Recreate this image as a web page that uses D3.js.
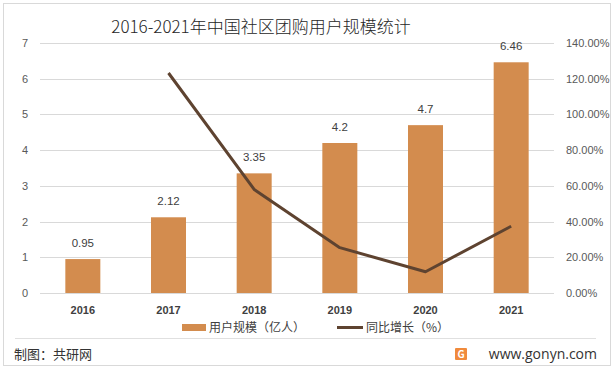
<!DOCTYPE html>
<html><head><meta charset="utf-8">
<script src="https://cdn.jsdelivr.net/npm/d3@7/dist/d3.min.js"></script>
<style>
body{margin:0;background:#fff;}
svg{display:block;font-family:"Microsoft YaHei","Noto Sans CJK SC",sans-serif;}
</style></head>
<body>
<svg id="c" width="614" height="369"></svg>
<script>
const categories = ["2016","2017","2018","2019","2020","2021"];
const users = [0.95, 2.12, 3.35, 4.2, 4.7, 6.46];
const growth = [null, 123.2, 58.0, 25.4, 11.9, 37.4];
const leftTicks = [0,1,2,3,4,5,6,7];
const rightTicks = [0,20,40,60,80,100,120,140];
const title = "2016-2021年中国社区团购用户规模统计";
const legendLabels = ["用户规模（亿人）","同比增长（%）"];

const svg = d3.select("#c");
const barColor = "#D38C4E", lineColor = "#5E4330";
const L = 40, R = 554, T = 43, B = 293;

svg.append("rect").attr("x",3.5).attr("y",3.5).attr("width",607).attr("height",362)
  .attr("fill","#fff").attr("stroke","#d9d9d9");

const y = d3.scaleLinear().domain([0,7]).range([B,T]);
const y2 = d3.scaleLinear().domain([0,140]).range([B,T]);
const xb = d3.scaleBand().domain(categories).range([L,R]);

// grid
svg.append("g").selectAll("line").data(leftTicks).join("line")
  .attr("x1",L).attr("x2",R).attr("y1",d=>Math.round(y(d))+0.5).attr("y2",d=>Math.round(y(d))+0.5)
  .attr("stroke","#d9d9d9").attr("stroke-width",1);

// left axis
const la = svg.append("g").attr("transform",`translate(${L},0)`)
  .call(d3.axisLeft(y).tickValues(leftTicks).tickSize(0).tickPadding(12).tickFormat(d3.format("d")));
la.select(".domain").remove();
la.selectAll("text").attr("fill","#595959").style("font-size","11px").style("font-family","Arial,'Liberation Sans',sans-serif");

// right axis
const ra = svg.append("g").attr("transform",`translate(${R},0)`)
  .call(d3.axisRight(y2).tickValues(rightTicks).tickSize(0).tickPadding(12).tickFormat(d=>d.toFixed(2)+"%"));
ra.select(".domain").remove();
ra.selectAll("text").attr("fill","#595959").style("font-size","11px").style("font-family","Arial,'Liberation Sans',sans-serif");

// bottom axis
const ba = svg.append("g").attr("transform",`translate(0,${B})`)
  .call(d3.axisBottom(xb).tickSize(0).tickPadding(13));
ba.select(".domain").remove();
ba.selectAll("text").attr("fill","#404040").style("font-size","11px").style("font-weight","bold").style("font-family","Arial,'Liberation Sans',sans-serif");

// bars
const bw = 35;
svg.append("g").selectAll("rect").data(categories).join("rect")
  .attr("x",d=>xb(d)+xb.bandwidth()/2-bw/2).attr("width",bw)
  .attr("y",(d,i)=>y(users[i])).attr("height",(d,i)=>B-y(users[i]))
  .attr("fill",barColor);

// bar labels
svg.append("g").selectAll("text").data(categories).join("text")
  .attr("x",d=>xb(d)+xb.bandwidth()/2).attr("y",(d,i)=>y(users[i])-12)
  .attr("text-anchor","middle").attr("fill","#404040")
  .style("font-size","11.5px").style("font-family","Arial,'Liberation Sans',sans-serif")
  .text((d,i)=>users[i]);

// line
const pts = categories.map((c,i)=>({c,v:growth[i]})).filter(d=>d.v!=null);
svg.append("path").datum(pts)
  .attr("d",d3.line().x(d=>xb(d.c)+xb.bandwidth()/2).y(d=>y2(d.v)))
  .attr("fill","none").attr("stroke",lineColor).attr("stroke-width",3).attr("stroke-linejoin","round");

// title
svg.append("text").attr("x",261).attr("y",33).attr("text-anchor","middle")
  .attr("fill","#262626").style("font-size","17px").style("font-weight","300").text(title);

// legend
const lg = svg.append("g");
lg.append("rect").attr("x",182).attr("y",324).attr("width",24).attr("height",7).attr("fill",barColor);
lg.append("text").attr("x",209).attr("y",332).attr("fill","#404040").style("font-size","12px").text(legendLabels[0]);
lg.append("line").attr("x1",337).attr("x2",363).attr("y1",327.5).attr("y2",327.5).attr("stroke",lineColor).attr("stroke-width",3);
lg.append("text").attr("x",366).attr("y",332).attr("fill","#404040").style("font-size","12px").text(legendLabels[1]);

// footer
svg.append("line").attr("x1",15).attr("x2",596).attr("y1",338.5).attr("y2",338.5).attr("stroke","#e0e0e0");
svg.append("text").attr("x",14).attr("y",359).attr("fill","#333").style("font-size","13px").text("制图：共研网");
svg.append("rect").attr("x",455).attr("y",348).attr("width",12).attr("height",12).attr("rx",1).attr("fill","#F08A3C");
svg.append("text").attr("x",461).attr("y",358).attr("text-anchor","middle").attr("fill","#fff").style("font-size","10px").style("font-weight","bold").text("G");
svg.append("text").attr("x",597).attr("y",359).attr("text-anchor","end").attr("fill","#333")
  .style("font-size","14px").style("font-family","'Open Sans','Noto Sans',sans-serif").text("www.gonyn.com");
</script>
</body></html>
